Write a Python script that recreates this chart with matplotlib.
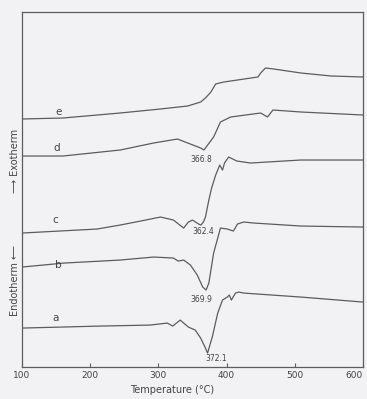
import matplotlib
matplotlib.use("Agg")
import matplotlib.pyplot as plt

# DSC traces, heat flow in arbitrary chart units (endotherm down)
temp_a = [100, 215, 288, 313, 321, 332, 344, 354, 362, 369, 372.1, 379, 387, 394,
          401, 404, 407, 413, 418, 425, 509, 600]
heat_a = [39, 41, 42, 44, 41, 47, 40, 37, 29, 19, 14, 30, 54, 67,
          70, 72, 67, 74, 75, 74, 70, 65]

temp_b = [100, 162, 244, 293, 322, 329, 337, 347, 357, 365, 369.9, 374, 381, 391,
          401, 410, 416, 425, 440, 509, 600]
heat_b = [100, 104, 107, 110, 109, 106, 107, 102, 92, 80, 77, 84, 114, 139,
          138, 136, 143, 145, 144, 141, 140]

temp_c = [100, 210, 244, 274, 303, 322, 337, 344, 350, 359, 362.4, 366, 369, 374,
          378, 384, 387, 390, 394, 397, 403, 415, 435, 509, 600]
heat_c = [134, 138, 142, 146, 150, 147, 139, 145, 147, 143, 142, 145, 150, 167,
          179, 192, 197, 202, 197, 204, 210, 206, 204, 207, 207]

temp_d = [100, 160, 244, 293, 328, 343, 362, 366.8, 381, 391, 406, 450, 460, 468,
          509, 600]
heat_d = [211, 211, 217, 224, 228, 224, 219, 217, 230, 245, 250, 254, 250, 257,
          255, 252]

temp_e = [100, 160, 244, 303, 343, 362, 369, 377, 384, 396, 446, 450, 457, 469,
          509, 553, 600]
heat_e = [248, 249, 254, 258, 261, 265, 269, 275, 283, 285, 290, 294, 299, 298,
          294, 291, 290]

curve_names = ["a", "b", "c", "d", "e"]
name_pos = [(149, 49), (153, 102), (149, 147), (151, 219), (153, 255)]

# endothermic peak temperatures (°C) marked under the minima
peak_temps = [372.1, 369.9, 362.4, 366.8]
peak_curves = ["a", "b", "c", "d"]
peak_offsets = [(6, -3.6), (-3.6, -7), (2, -5), (-2, -6.5)]

LINE = "#5c5c5c"
TEXT = "#444444"
BG = "#f2f1f4"

fig = plt.figure(figsize=(3.67, 3.99), dpi=100, facecolor=BG)
ax = fig.add_axes([0.060, 0.080, 0.929, 0.890])
ax.set_facecolor(BG)

series = {
    "a": (temp_a, heat_a),
    "b": (temp_b, heat_b),
    "c": (temp_c, heat_c),
    "d": (temp_d, heat_d),
    "e": (temp_e, heat_e),
}
for name in curve_names:
    t, h = series[name]
    ax.plot(t, h, color=LINE, lw=0.9, solid_joinstyle="round")

for name, (tx, hy) in zip(curve_names, name_pos):
    ax.text(tx, hy, name, fontsize=7.5, color=TEXT, ha="center", va="center")

for tp, name, off in zip(peak_temps, peak_curves, peak_offsets):
    t, h = series[name]
    hmin = h[t.index(tp)]
    ax.annotate(f"{tp:.1f}", (tp, hmin), xytext=off, textcoords="offset points",
                fontsize=5.5, color=TEXT, ha="center", va="center")

ax.set_xlim(100, 600)
ax.set_ylim(0, 355)
ax.set_xticks([100, 200, 300, 400, 500, 600])
ax.set_yticks([])
ax.tick_params(axis="x", direction="in", length=3, width=0.8, color=LINE,
               labelsize=6.5, labelcolor=TEXT, pad=3)
ax.get_xticklabels()[-1].set_horizontalalignment("right")
for sp in ax.spines.values():
    sp.set_color(LINE)
    sp.set_linewidth(0.9)

fig.text(0.469, 0.023, "Temperature (°C)", fontsize=7, color=TEXT,
         ha="center", va="center")
fig.text(0.041, 0.596, "⟶ Exotherm", fontsize=7, color=TEXT,
         rotation=90, ha="center", va="center")
fig.text(0.041, 0.298, "Endotherm ⟵", fontsize=7, color=TEXT,
         rotation=90, ha="center", va="center")

fig.savefig("out.png", dpi=100, facecolor=BG)
